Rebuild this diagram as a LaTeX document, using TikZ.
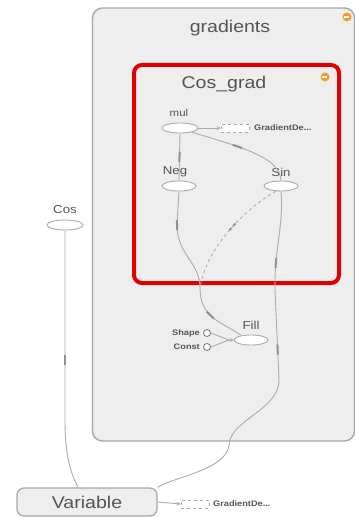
\documentclass[tikz,border=0pt]{standalone}
\usepackage{fontspec}
\setmainfont{Liberation Sans}
\newfontfamily\tbf[FakeStretch=1.15]{Liberation Sans}
\usetikzlibrary{decorations.markings,arrows.meta,shapes.geometric}
\definecolor{bgbox}{HTML}{EEEEEE}
\definecolor{boxline}{HTML}{A6A6A6}
\definecolor{edgec}{HTML}{ABABAB}
\definecolor{txt}{HTML}{555555}
\definecolor{redbox}{HTML}{E00000}
\definecolor{orng}{HTML}{F0A030}
\tikzset{
  opnode/.style={ellipse,draw=edgec,fill=white,line width=0.9pt,minimum width=34pt,minimum height=10pt,inner sep=0pt},
  lab/.style={text=txt,font=\tbf\fontsize{11.5}{12}\selectfont,inner sep=0pt},
  smalllab/.style={text=txt,font=\tbf\bfseries\fontsize{8}{9}\selectfont,inner sep=0pt},
  edge/.style={draw=edgec,line width=0.9pt},
  tick/.style={postaction={decorate,decoration={markings,mark=at position #1 with {\draw[edgec!85!black,line width=2pt] (-5pt,0)--(5pt,0);}}}},
  dbox/.style={draw=edgec,dashed,fill=white,minimum width=28pt,minimum height=8pt,inner sep=0pt,line width=0.7pt},
  small/.style={circle,draw=txt!80,fill=white,line width=0.8pt,minimum size=7pt,inner sep=0pt},
  arr/.style={-{Stealth[length=4pt,width=4pt]}}
}
\begin{document}
\begin{tikzpicture}[x=1pt,y=-1pt]
\useasboundingbox (0,0) rectangle (355,518);
% gradients group
\node[draw=boxline,fill=bgbox,line width=1.4pt,rounded corners=10pt,minimum width=262pt,minimum height=433pt,inner sep=0pt] (grad) at (223.5,224.5) {};
\node[text=txt,font=\tbf\fontsize{17}{18}\selectfont,inner sep=0pt] (gradT) at (230,28) {gradients};
\node[circle,fill=orng,minimum size=9pt,inner sep=0pt] (gradM) at (347,17) {};
\draw[white,line width=1.4pt] (gradM.west)++(2pt,0) -- ++(5pt,0);
% Cos_grad group
\node[draw=redbox,fill=bgbox,line width=4pt,rounded corners=8pt,minimum width=205pt,minimum height=218pt,inner sep=0pt] (cg) at (236.5,174) {};
\node[text=txt,font=\tbf\fontsize{17}{18}\selectfont,inner sep=0pt] (cgT) at (224,84) {Cos\_grad};
\node[circle,fill=orng,minimum size=9pt,inner sep=0pt] (cgM) at (325,77) {};
\draw[white,line width=1.4pt] (cgM.west)++(2pt,0) -- ++(5pt,0);
% op nodes
\node[opnode,minimum width=36pt] (mul) at (180,128) {};
\node[lab,font=\tbf\fontsize{10}{11}\selectfont] (mulL) at (179,113) {mul};
\node[opnode] (neg) at (179,186) {};
\node[lab] (negL) at (175,172) {Neg};
\node[opnode] (sin) at (281,186) {};
\node[lab] (sinL) at (281,172) {Sin};
\node[opnode] (fill) at (251,340) {};
\node[lab] (fillL) at (251,325) {Fill};
\node[opnode,minimum width=36pt] (cos) at (65,225) {};
\node[lab] (cosL) at (65,210) {Cos};
\node[draw=boxline,fill=bgbox,line width=1.2pt,rounded corners=7pt,minimum width=140pt,minimum height=28pt,inner sep=0pt,text=txt,font=\tbf\fontsize{17}{18}\selectfont] (var) at (87,502) {Variable};
% gradient descent refs
\node[dbox] (gd1) at (235,128) {};
\node[smalllab,anchor=west] (gd1L) at (254,128) {GradientDe...};
\node[dbox] (gd2) at (195,504) {};
\node[smalllab,anchor=west] (gd2L) at (213,504) {GradientDe...};
\draw[edge,arr] (mul.east) -- (gd1.west);
\draw[edge,arr] (var.east) -- (gd2.west);
% Shape / Const
\node[small] (shape) at (207,333) {};
\node[smalllab,anchor=east] (shapeL) at (200,333) {Shape};
\node[small] (const) at (207,347) {};
\node[smalllab,anchor=east] (constL) at (200,347) {Const};
\coordinate (fin) at (229,340);
\draw[edge] (shape.east) -- (fin);
\draw[edge] (const.east) -- (fin);
\draw[edge,arr] (fin) -- (fill.west);
% edges
\draw[edge,tick=0.5] (mul.south) -- (neg.north);
\draw[edge,tick=0.45] (mul.-20) .. controls (245,148) and (280,158) .. (sin.north);
\coordinate (j) at (200,288);
\draw[edge,tick=0.2,tick=0.78] (neg.south) -- (177,225) .. controls (177,255) and (200,262) .. (j) .. controls (200,318) and (222,322) .. (fill.155);
\draw[edge,dashed,tick=0.45] (sin.225) .. controls (240,212) and (205,252) .. (j);
\draw[edge,tick=0.2,tick=0.44] (sin.south) .. controls (284,225) and (274,250) .. (275,290) -- (279,380) .. controls (279,410) and (230,420) .. (229,445) .. controls (227,470) and (170,478) .. (var.north east);
\draw[edge,tick=0.5] (cos.south) -- (65,420) .. controls (65,460) and (72,475) .. (var.north -| 78,0);
\end{tikzpicture}
\end{document}
